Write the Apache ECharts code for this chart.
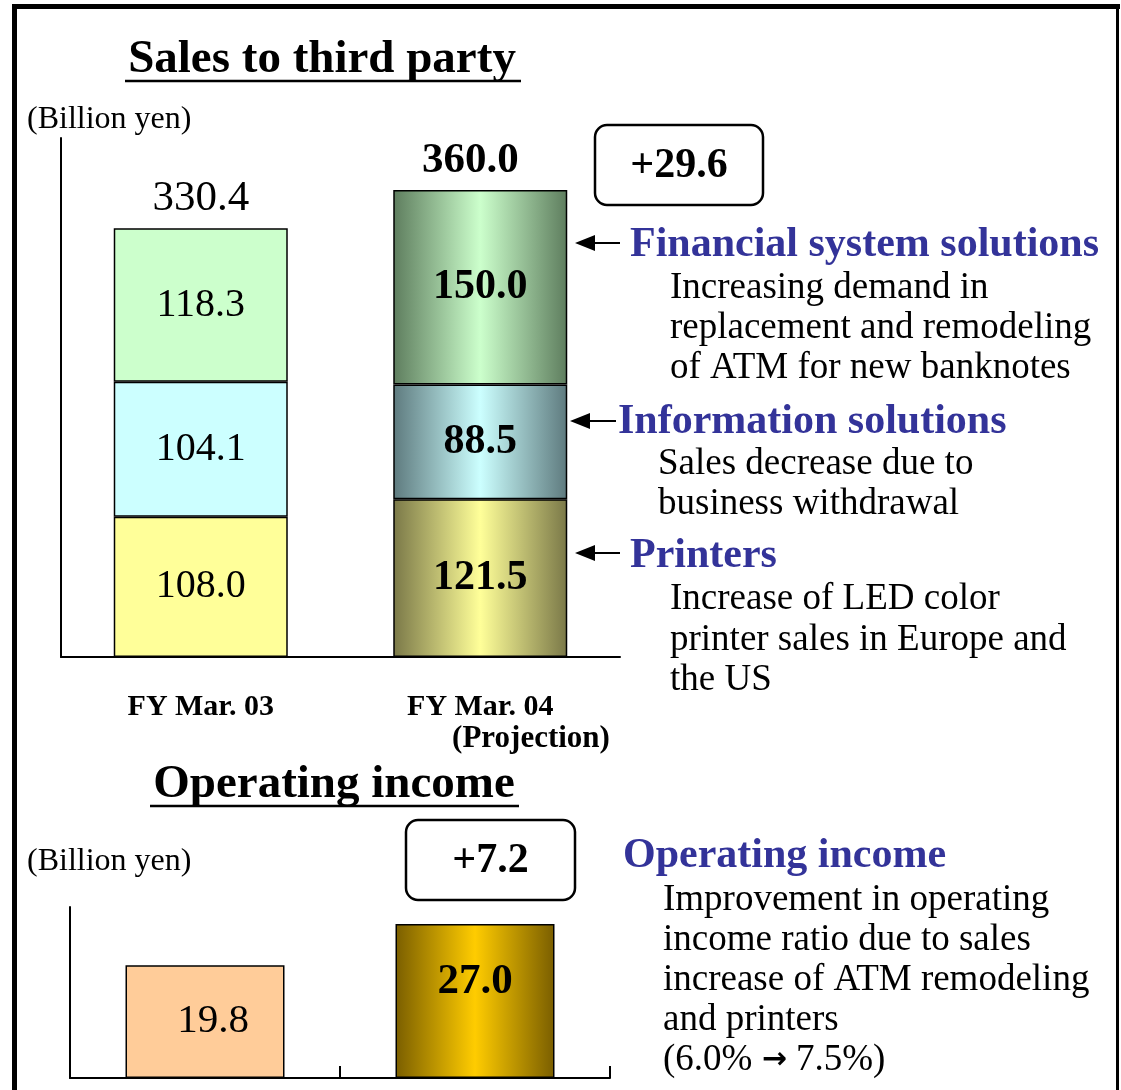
<!DOCTYPE html>
<html>
<head>
<meta charset="utf-8">
<style>
  html, body { margin: 0; padding: 0; background: #fff; }
  #chart { width: 1121px; height: 1090px; }
</style>
<script src="https://cdn.jsdelivr.net/npm/echarts@6/dist/echarts.min.js"></script>
</head>
<body>
<div id="chart"></div>
<script>
// data (billion yen)
const categories = ['FY Mar. 03', 'FY Mar. 04']
const financial = [118.3, 150.0]
const information = [104.1, 88.5]
const printers = [108.0, 121.5]
const salesTotal = [330.4, 360.0]
const opIncome = [19.8, 27.0]

const serif = '"Liberation Serif", "Times New Roman", serif'
const blue = '#333399'

// FY03 bars flat, FY04 bars with a cylinder-like gradient
function grad(edge, mid) {
	return new echarts.graphic.LinearGradient(0, 0, 1, 0, [
		{ offset: 0, color: edge },
		{ offset: 0.5, color: mid },
		{ offset: 1, color: edge }
	])
}
const segColors = {
	financial: ['#CCFFCC', grad('#5E7D5E', '#CCFFCC')],
	information: ['#CCFFFF', grad('#5E7A7E', '#CCFFFF')],
	printers: ['#FFFF99', grad('#7A7848', '#FFFF99')]
}
const opColors = ['#FFCC99', grad('#7A5E00', '#FFCC00')]

function stackSeries(name, values, colors) {
	return {
		name: name,
		type: 'bar',
		stack: 'sales',
		xAxisIndex: 0,
		yAxisIndex: 0,
		barWidth: 174,
		barGap: '-100%',
		data: values.map((v, i) => ({
			value: v,
			itemStyle: { color: colors[i] },
			label: i === 1 ? { fontWeight: 'bold', fontSize: 42 } : { fontWeight: 'normal' }
		})),
		itemStyle: { borderColor: '#000', borderWidth: 1.5 },
		label: {
			show: true,
			position: 'inside',
			color: '#000',
			fontFamily: serif,
			fontSize: 40,
			formatter: (p) => p.value.toFixed(1)
		}
	}
}

function txt(x, y, text, size, opt) {
	opt = opt || {}
	return {
		type: 'text',
		x: x,
		y: y,
		silent: true,
		style: {
			text: text,
			fontFamily: serif,
			fontSize: size,
			fontWeight: opt.bold ? 'bold' : 'normal',
			fill: opt.color || '#000',
			textAlign: opt.align || 'left',
			textVerticalAlign: 'middle',
			rich: opt.rich
		}
	}
}
function hline(x1, x2, y, w) {
	return { type: 'line', silent: true, shape: { x1: x1, y1: y, x2: x2, y2: y }, style: { stroke: '#000', lineWidth: w || 2 } }
}
function arrow(x1, x2, y) {
	return [
		hline(x1 + 14, x2, y, 2),
		{ type: 'polygon', silent: true, shape: { points: [[x1, y], [x1 + 20, y - 8], [x1 + 20, y + 8]] }, style: { fill: '#000' } }
	]
}
function box(x, y, w, h, text) {
	return [
		{ type: 'rect', silent: true, shape: { x: x, y: y, width: w, height: h, r: 12 }, style: { fill: '#fff', stroke: '#000', lineWidth: 2.5 } },
		txt(x + w / 2, y + h / 2 + 1, text, 42, { bold: true, align: 'center' })
	]
}

const graphics = [
	// frame
	{ type: 'rect', silent: true, shape: { x: 12, y: 4, width: 1108, height: 5 }, style: { fill: '#000' } },
	{ type: 'rect', silent: true, shape: { x: 12, y: 4, width: 5, height: 1086 }, style: { fill: '#000' } },
	{ type: 'rect', silent: true, shape: { x: 1116, y: 4, width: 3, height: 1086 }, style: { fill: '#000' } },
	// titles
	txt(322, 60, 'Sales to third party', 47, { bold: true, align: 'center' }),
	hline(125, 521, 81, 2.5),
	txt(334, 785, 'Operating income', 47, { bold: true, align: 'center' }),
	hline(150, 519, 806, 2.5),
	txt(27, 120, '(Billion yen)', 32),
	txt(27, 862, '(Billion yen)', 32),
	txt(531, 739, '(Projection)', 31, { bold: true, align: 'center' }),
	...box(595, 125, 168, 80, '+29.6'),
	...box(406, 820, 169, 80, '+7.2'),
	// segment notes
	...arrow(575, 620, 243),
	txt(630, 245, 'Financial system solutions', 42, { bold: true, color: blue }),
	txt(670, 288, 'Increasing demand in', 37),
	txt(670, 328, 'replacement and remodeling', 37),
	txt(670, 368, 'of ATM for new banknotes', 37),
	...arrow(570, 616, 421),
	txt(618, 422, 'Information solutions', 42, { bold: true, color: blue }),
	txt(658, 464, 'Sales decrease due to', 37),
	txt(658, 504, 'business withdrawal', 37),
	...arrow(575, 620, 553),
	txt(630, 556, 'Printers', 42, { bold: true, color: blue }),
	txt(670, 599, 'Increase of LED color', 37),
	txt(670, 640, 'printer sales in Europe and', 37),
	txt(670, 680, 'the US', 37),
	txt(623, 856, 'Operating income', 42, { bold: true, color: blue }),
	txt(663, 900, 'Improvement in operating', 37),
	txt(663, 940, 'income ratio due to sales', 37),
	txt(663, 980, 'increase of ATM remodeling', 37),
	txt(663, 1020, 'and printers', 37),
	txt(663, 1060, '(6.0% {a|\u2192} 7.5%)', 37, {
		rich: { a: { fontFamily: '"DejaVu Sans", sans-serif', fontWeight: 'bold', fontSize: 30, fill: '#000' } }
	})
]

const chart = echarts.init(document.getElementById('chart'))
const option = {
	backgroundColor: '#fff',
	animation: false,
	grid: [
		{ left: 61, top: 138, width: 559, height: 519, outerBoundsMode: 'none' },
		{ left: 70, top: 907, width: 540, height: 171, outerBoundsMode: 'none' }
	],
	xAxis: [
		{
			type: 'category',
			gridIndex: 0,
			data: categories,
			axisLine: { show: true, lineStyle: { color: '#000', width: 2 } },
			axisTick: { show: false },
			axisLabel: {
				color: '#000',
				fontFamily: serif,
				fontWeight: 'bold',
				fontSize: 30,
				margin: 35
			}
		},
		{
			type: 'category',
			gridIndex: 1,
			data: categories,
			axisLine: { show: true, lineStyle: { color: '#000', width: 2 } },
			axisTick: { show: true, inside: true, length: 12, lineStyle: { color: '#000', width: 2 } },
			axisLabel: { show: false }
		}
	],
	yAxis: [
		{
			type: 'value',
			gridIndex: 0,
			min: 0,
			max: 400,
			axisLine: { show: true, lineStyle: { color: '#000', width: 2 } },
			axisTick: { show: false },
			axisLabel: { show: false },
			splitLine: { show: false }
		},
		{
			type: 'value',
			gridIndex: 1,
			min: 0,
			max: 30,
			axisLine: { show: true, lineStyle: { color: '#000', width: 2 } },
			axisTick: { show: false },
			axisLabel: { show: false },
			splitLine: { show: false }
		}
	],
	series: [
		stackSeries('Printers', printers, segColors.printers),
		stackSeries('Information solutions', information, segColors.information),
		stackSeries('Financial system solutions', financial, segColors.financial),
		{
			// invisible bars only to carry the totals above each stack
			name: 'Total',
			type: 'bar',
			xAxisIndex: 0,
			yAxisIndex: 0,
			barWidth: 174,
			barGap: '-100%',
			z: 1,
			itemStyle: { color: 'rgba(0,0,0,0)' },
			data: salesTotal.map((v, i) => ({
				value: v,
				label: i === 1 ? { fontWeight: 'bold', offset: [-10, 0] } : { fontWeight: 'normal' }
			})),
			label: {
				show: true,
				position: 'top',
				distance: 8,
				color: '#000',
				fontFamily: serif,
				fontSize: 43,
				formatter: (p) => p.value.toFixed(1)
			}
		},
		{
			name: 'Operating income',
			type: 'bar',
			xAxisIndex: 1,
			yAxisIndex: 1,
			barWidth: 159,
			data: opIncome.map((v, i) => ({
				value: v,
				itemStyle: { color: opColors[i] },
				label: i === 1
					? { fontWeight: 'bold', position: 'insideTop', distance: 36, fontSize: 43 }
					: { fontWeight: 'normal', position: 'inside', offset: [8, 0] }
			})),
			itemStyle: { borderColor: '#000', borderWidth: 1.5 },
			label: {
				show: true,
				color: '#000',
				fontFamily: serif,
				fontSize: 41,
				formatter: (p) => p.value.toFixed(1)
			}
		}
	],
	graphic: { elements: graphics }
}
chart.setOption(option)
</script>
</body>
</html>
